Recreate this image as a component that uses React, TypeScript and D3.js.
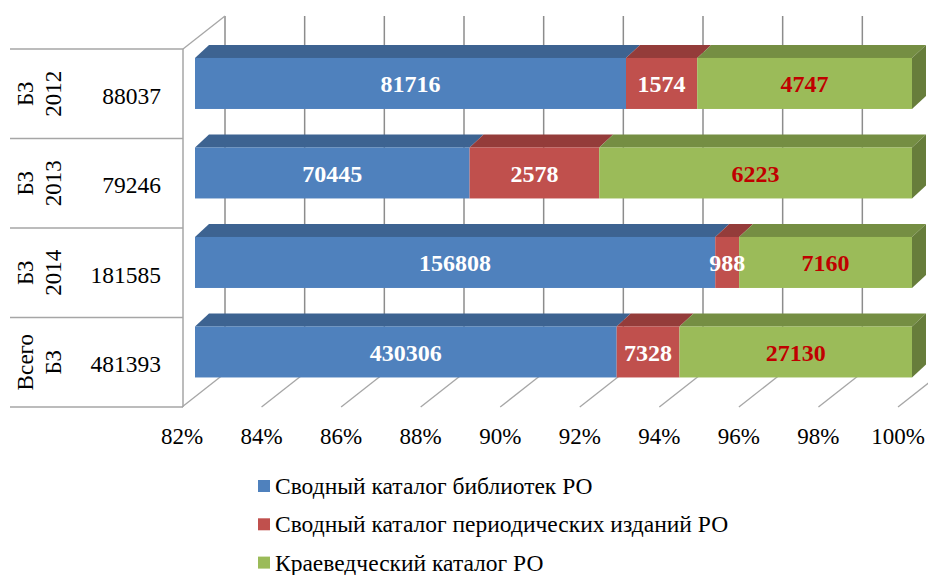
import * as d3 from 'd3';
import React from 'react';

const categories = ['БЗ 2012', 'БЗ 2013', 'БЗ 2014', 'Всего БЗ'];
const categoryLines = [['БЗ', '2012'], ['БЗ', '2013'], ['БЗ', '2014'], ['Всего', 'БЗ']];
const totals = [88037, 79246, 181585, 481393];

const seriesNames = [
    'Сводный каталог библиотек РО',
    'Сводный каталог периодических изданий РО',
    'Краеведческий каталог РО'
];
const svodLib = [81716, 70445, 156808, 430306];
const svodPer = [1574, 2578, 988, 7328];
const kraeved = [4747, 6223, 7160, 27130];

const tickValues = [0.82, 0.84, 0.86, 0.88, 0.9, 0.92, 0.94, 0.96, 0.98, 1];

const W = 928, H = 575;
const colors = ['#4F81BD', '#C0504D', '#9BBB59'];
const topColors = ['#3D6391', '#943C3A', '#758E43'];
const sideColor = '#677D3B';
const labelColors = ['#FFFFFF', '#FFFFFF', '#C00000'];
const font = '"Liberation Serif", "Times New Roman", serif';

// depth offsets
const wallDx = 42, wallDy = -33;
const barDx = 14, barDy = -13;

export default function App() {
    const rows = categories.map((c, i) => ({ cat: c, a: svodLib[i], b: svodPer[i], c: kraeved[i] }));
    const stack = d3.stack<any>().keys(['a', 'b', 'c']).offset(d3.stackOffsetExpand);
    const layers = stack(rows);

    // bar front plane, floor front edge, back wall
    const xBar = d3.scaleLinear().domain([0.82, 1]).range([195, 912]).clamp(true);
    const xFloor = d3.scaleLinear().domain([0.82, 1]).range([182, 898]);
    const xBack = d3.scaleLinear().domain([0.82, 1]).range([225, 942]);
    const y = d3.scaleBand().domain(categories).range([49, 407]).paddingInner(0).paddingOuter(0);
    const step = y.step();
    const barTop = (c: string) => (y(c) as number) + step * 0.1;
    const barH = step * 0.57;
    const floorY = 407, backTop = 16;

    const fmt = d3.format('.0%');
    const gridColor = '#8C8C8C';

    return (
        <svg width={W} height={H} style={{ position: 'absolute', left: 0, top: 0, background: '#fff' }}
            fontFamily={font}>
            {/* back wall gridlines */}
            {tickValues.map(t => (
                <line key={'g' + t} x1={xBack(t)} x2={xBack(t)} y1={backTop} y2={floorY + wallDy}
                    stroke={gridColor} strokeWidth={1.5} />
            ))}
            {/* floor lines */}
            {tickValues.map(t => (
                <line key={'f' + t} x1={xFloor(t)} y1={floorY} x2={xFloor(t) + wallDx} y2={floorY + wallDy}
                    stroke="#A6A6A6" strokeWidth={1.3} />
            ))}
            {/* left side wall */}
            <line x1={183} x2={183} y1={49} y2={floorY} stroke="#A6A6A6" strokeWidth={1.5} />
            <line x1={183} y1={49} x2={183 + wallDx} y2={49 + wallDy} stroke="#A6A6A6" strokeWidth={1.3} />

            {/* table lines on the left */}
            {[...categories.map(c => y(c) as number), 407].map((v, i) => (
                <line key={'t' + i} x1={10} x2={183} y1={v} y2={v} stroke="#A6A6A6" strokeWidth={1.3} />
            ))}
            {categories.map((c, i) => {
                const cy = (y(c) as number) + step / 2;
                return (
                    <g key={'lab' + c}>
                        <text transform={`translate(33,${cy}) rotate(-90)`} textAnchor="middle" fontSize={23}>
                            {categoryLines[i][0]}
                        </text>
                        <text transform={`translate(61,${cy}) rotate(-90)`} textAnchor="middle" fontSize={23}>
                            {categoryLines[i][1]}
                        </text>
                        <text x={161} y={cy + 10} textAnchor="end" fontSize={23.5}>{totals[i]}</text>
                    </g>
                );
            })}

            {/* bars */}
            {categories.map((c, i) => {
                const yt = barTop(c);
                return (
                    <g key={'bar' + c}>
                        {layers.map((layer, k) => {
                            const x0 = xBar(layer[i][0]);
                            const x1 = xBar(layer[i][1]);
                            if (x1 <= x0) return null;
                            const topPts = [[x0, yt], [x0 + barDx, yt + barDy], [x1 + barDx, yt + barDy], [x1, yt]];
                            return (
                                <g key={k}>
                                    <polygon points={topPts.map(p => p.join(',')).join(' ')} fill={topColors[k]} />
                                    <rect x={x0} y={yt} width={x1 - x0} height={barH} fill={colors[k]} />
                                    {k === layers.length - 1 && (
                                        <polygon
                                            points={[[x1, yt], [x1 + barDx, yt + barDy], [x1 + barDx, yt + barH + barDy], [x1, yt + barH]]
                                                .map(p => p.join(',')).join(' ')}
                                            fill={sideColor} />
                                    )}
                                </g>
                            );
                        })}
                        {layers.map((layer, k) => {
                            const x0 = xBar(layer[i][0]);
                            const x1 = xBar(layer[i][1]);
                            const vals = [svodLib, svodPer, kraeved][k];
                            return (
                                <text key={'v' + k} x={(x0 + x1) / 2} y={yt + barH / 2 + 9} textAnchor="middle"
                                    fontSize={24} fontWeight="bold" fill={labelColors[k]}>
                                    {vals[i]}
                                </text>
                            );
                        })}
                    </g>
                );
            })}

            {/* axis labels */}
            {tickValues.map(t => (
                <text key={'x' + t} x={xFloor(t)} y={444} textAnchor="middle" fontSize={23}>{fmt(t)}</text>
            ))}

            {/* legend */}
            {seriesNames.map((s, k) => (
                <g key={'lg' + k} transform={`translate(258,${480 + k * 38.3})`}>
                    <rect x={0} y={0} width={12} height={12} fill={colors[k]} />
                    <text x={17} y={14} fontSize={23.5}>{s}</text>
                </g>
            ))}
        </svg>
    );
}
